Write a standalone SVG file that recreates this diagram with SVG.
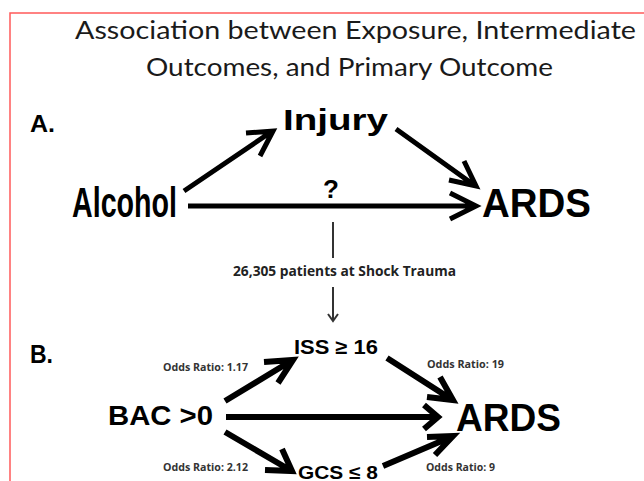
<svg xmlns="http://www.w3.org/2000/svg" width="644" height="481" viewBox="0 0 644 481">
<style>
.title{font-family:"Lato","Open Sans","Liberation Sans",sans-serif;font-size:25px;fill:#1a1a1a}
.big{font-family:"Liberation Sans",Arial,sans-serif;font-weight:bold;fill:#000}
.lbl{font-family:"Open Sans","Liberation Sans",sans-serif;font-weight:bold;fill:#222}
.odds{font-family:"Open Sans","Liberation Sans",sans-serif;font-weight:bold;font-size:11px;fill:#333}
.ca{fill:none;stroke:#000;stroke-width:5;stroke-linejoin:miter;stroke-miterlimit:10}
.cb{fill:none;stroke:#000;stroke-width:6;stroke-linejoin:miter;stroke-miterlimit:10}
.thin{fill:none;stroke:#333;stroke-width:2}
</style>
<rect x="10" y="13" width="700" height="520" fill="#fff" stroke="#ff5a5a" stroke-width="1.5"/>
<g id="title">
<text class="title" x="75" y="39" textLength="561" lengthAdjust="spacingAndGlyphs">Association between Exposure, Intermediate</text>
<text class="title" x="146" y="76" textLength="407" lengthAdjust="spacingAndGlyphs">Outcomes, and Primary Outcome</text>
</g>
<g id="label-a"><text class="big" x="30" y="132" font-size="24" textLength="25" lengthAdjust="spacingAndGlyphs">A.</text></g>
<g id="label-b"><text class="big" x="30" y="363" font-size="25" textLength="23" lengthAdjust="spacingAndGlyphs">B.</text></g>
<g id="injury"><text class="big" x="283" y="130" font-size="29" textLength="105" lengthAdjust="spacingAndGlyphs">Injury</text></g>
<g id="alcohol"><text class="big" x="72" y="217" font-size="42" textLength="105" lengthAdjust="spacingAndGlyphs">Alcohol</text></g>
<g id="ards-a"><text class="big" x="482" y="217" font-size="40" textLength="109" lengthAdjust="spacingAndGlyphs">ARDS</text></g>
<g id="question"><text class="big" x="331" y="198" font-size="26" text-anchor="middle">?</text></g>
<g id="patients"><text class="lbl" x="233" y="276" font-size="14" textLength="223" lengthAdjust="spacingAndGlyphs">26,305 patients at Shock Trauma</text></g>
<g id="iss"><text class="big" x="294" y="354" font-size="20" textLength="84" lengthAdjust="spacingAndGlyphs">ISS ≥ 16</text></g>
<g id="bac"><text class="big" x="108" y="425" font-size="27" textLength="105" lengthAdjust="spacingAndGlyphs">BAC &gt;0</text></g>
<g id="ards-b"><text class="big" x="456" y="431" font-size="39" textLength="105" lengthAdjust="spacingAndGlyphs">ARDS</text></g>
<g id="gcs"><text class="big" x="298" y="479" font-size="19" textLength="80" lengthAdjust="spacingAndGlyphs">GCS ≤ 8</text></g>
<g id="odds-labels">
<text class="odds" x="163" y="371" textLength="85" lengthAdjust="spacingAndGlyphs">Odds Ratio: 1.17</text>
<text class="odds" x="427" y="368" textLength="77" lengthAdjust="spacingAndGlyphs">Odds Ratio: 19</text>
<text class="odds" x="163" y="471" textLength="85" lengthAdjust="spacingAndGlyphs">Odds Ratio: 2.12</text>
<text class="odds" x="426" y="471" textLength="69" lengthAdjust="spacingAndGlyphs">Odds Ratio: 9</text>
</g>
<g id="connectors">
<path class="ca" d="M184,191 L271,132 M246,133 L273,131 L260,156"/>
<path class="ca" d="M396,129 L474,185 M464,161 L476,186 L449,180"/>
<path class="ca" d="M188,206 L474,206 M450,193 L476,206 L450,219"/>
<path class="thin" d="M333,222 L333,258"/>
<path class="thin" d="M333,287 L333,320 M328,314 L333,321 L338,314"/>
<path class="cb" d="M225,401 L291,361 M264,362 L293,360 L278,383"/>
<path class="cb" d="M387,358 L451,399 M440,377 L453,400 L427,397"/>
<path class="cb" d="M226,417 L436,417 M424,405 L438,417 L424,429"/>
<path class="cb" d="M225,432 L290,470 M282,449 L292,471 L265,470"/>
<path class="cb" d="M383,466 L451,437 M427,437 L453,436 L435,455"/>
</g>
</svg>
